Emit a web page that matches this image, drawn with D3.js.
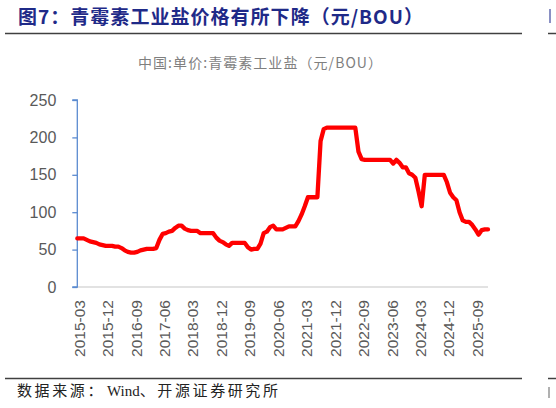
<!DOCTYPE html>
<html>
<head>
<meta charset="utf-8">
<script src="https://cdn.jsdelivr.net/npm/d3@7"></script>
<style>
  body { margin: 0; background: #fff; }
  svg { display: block; }
</style>
</head>
<body>
<svg id="chart" width="556" height="408"></svg>
<script>
// ── Data ──────────────────────────────────────────────────────────────────────
// monthly categories, 2015-03 .. 2026-01
const months = d3.timeMonth.range(new Date(2015, 2, 1), new Date(2026, 1, 1))
  .map(d3.timeFormat('%Y-%m'));

// 中国:单价:青霉素工业盐 (元/BOU)
const prices = [
  65, 65, 65, 63, 61, 60, 59, 57, 56, 55,
  55, 55, 54, 54, 52, 49, 47, 46, 46, 47,
  49, 50, 51, 51, 51, 52, 63, 71, 72, 74,
  75, 79, 82, 82, 78, 76, 75, 75, 75, 72,
  72, 72, 72, 72, 66, 62, 60, 57, 55, 59,
  59, 59, 59, 59, 53, 50, 51, 51, 58, 72,
  74, 80, 82, 77, 77, 77, 79, 81, 81, 81,
  88, 97, 108, 120, 120, 120, 120, 195, 211, 213,
  213, 213, 213, 213, 213, 213, 213, 213, 213, 181,
  171, 170, 170, 170, 170, 170, 170, 170, 170, 170,
  165, 170, 166, 160, 160, 152, 150, 146, 128, 108,
  150, 150, 150, 150, 150, 150, 150, 140, 126, 120,
  116, 100, 89, 87, 87, 83, 77, 70, 76, 77,
  77
];

const xTickLabels = ['2015-03', '2015-12', '2016-09', '2017-06', '2018-03',
  '2018-12', '2019-09', '2020-06', '2021-03', '2021-12', '2022-09',
  '2023-06', '2024-03', '2024-12', '2025-09'];
const yTickValues = [0, 50, 100, 150, 200, 250];

// ── Layout ────────────────────────────────────────────────────────────────────
const plot = { left: 77.3, right: 488, top: 100, bottom: 287 };
const cjk  = '"Noto Sans CJK SC", sans-serif';

const svg = d3.select('#chart');

// Header
svg.append('text')
  .attr('x', 18).attr('y', 24)
  .attr('font-family', cjk)
  .attr('font-size', 19)
  .attr('font-weight', 'bold')
  .attr('fill', '#1f2a88')
  .attr('textLength', 405)
  .attr('lengthAdjust', 'spacing')
  .text('图7：青霉素工业盐价格有所下降（元/BOU）');

svg.append('line')
  .attr('x1', 5).attr('x2', 522)
  .attr('y1', 33.5).attr('y2', 33.5)
  .attr('stroke', '#404040').attr('stroke-width', 1.5);

// sliver of the neighbouring figure at the right edge
svg.append('line')
  .attr('x1', 548).attr('x2', 556)
  .attr('y1', 33.5).attr('y2', 33.5)
  .attr('stroke', '#404040').attr('stroke-width', 1.5);
svg.append('rect')
  .attr('x', 549).attr('y', 9).attr('width', 2).attr('height', 14)
  .attr('fill', '#8a90c4');

svg.append('text')
  .attr('x', 260).attr('y', 68)
  .attr('text-anchor', 'middle')
  .attr('font-family', cjk)
  .attr('font-size', 14)
  .attr('fill', '#7f7f7f')
  .attr('textLength', 244)
  .attr('lengthAdjust', 'spacing')
  .text('中国:单价:青霉素工业盐（元/BOU）');

// ── Scales ────────────────────────────────────────────────────────────────────
const x = d3.scalePoint()
  .domain(months)
  .range([plot.left, plot.right]);

const y = d3.scaleLinear()
  .domain([0, 250])
  .range([plot.bottom, plot.top]);

// ── Axes ──────────────────────────────────────────────────────────────────────
// x axis: plain gray baseline, rotated labels
svg.append('line')
  .attr('x1', plot.left).attr('x2', plot.right)
  .attr('y1', y(0)).attr('y2', y(0))
  .attr('stroke', '#d9d9d9').attr('stroke-width', 1.3);

svg.append('g')
  .selectAll('text')
  .data(xTickLabels)
  .join('text')
  .attr('transform', d => `translate(${x(d) + 2},300) rotate(-90)`)
  .attr('text-anchor', 'end')
  .attr('dy', '0.35em')
  .attr('font-family', '"Liberation Sans", Arial, sans-serif')
  .attr('font-size', 15.5)
  .attr('fill', '#595959')
  .text(d => d);

// y axis
const yAxis = svg.append('g')
  .attr('transform', `translate(${plot.left},0)`)
  .call(d3.axisLeft(y).tickValues(yTickValues).tickSize(5).tickPadding(16));

yAxis.select('.domain')
  .attr('stroke', '#5b8bd0').attr('stroke-width', 1.3)
  .attr('d', `M-5,${y(250)}H0V${y(0)}H-5`);
yAxis.selectAll('.tick line')
  .attr('stroke', '#5b8bd0').attr('stroke-width', 1.3);
yAxis.selectAll('.tick text')
  .attr('font-family', '"Liberation Sans", Arial, sans-serif')
  .attr('font-size', 16)
  .attr('fill', '#595959');

// ── Line ──────────────────────────────────────────────────────────────────────
const line = d3.line()
  .x((d, i) => x(months[i]))
  .y(d => y(d));

svg.append('path')
  .datum(prices)
  .attr('fill', 'none')
  .attr('stroke', '#ff0000')
  .attr('stroke-width', 4.3)
  .attr('stroke-linejoin', 'round')
  .attr('stroke-linecap', 'round')
  .attr('d', line);

// ── Footer ────────────────────────────────────────────────────────────────────
svg.append('line')
  .attr('x1', 5).attr('x2', 522)
  .attr('y1', 378.5).attr('y2', 378.5)
  .attr('stroke', '#404040').attr('stroke-width', 1.5);
svg.append('line')
  .attr('x1', 548).attr('x2', 556)
  .attr('y1', 378.5).attr('y2', 378.5)
  .attr('stroke', '#404040').attr('stroke-width', 1.5);
svg.append('rect')
  .attr('x', 548).attr('y', 387).attr('width', 2).attr('height', 11)
  .attr('fill', '#b0b0b0');

const source = svg.append('text')
  .attr('x', 17).attr('y', 396)
  .attr('font-family', '"Liberation Serif", "Noto Sans CJK SC", serif')
  .attr('font-size', 15)
  .attr('fill', '#222');
source.append('tspan').attr('letter-spacing', 2.6).text('数据来源：');
source.append('tspan').attr('dx', 2).text('Wind');
source.append('tspan').attr('letter-spacing', 2.6).text('、开源证券研究所');
</script>
</body>
</html>
